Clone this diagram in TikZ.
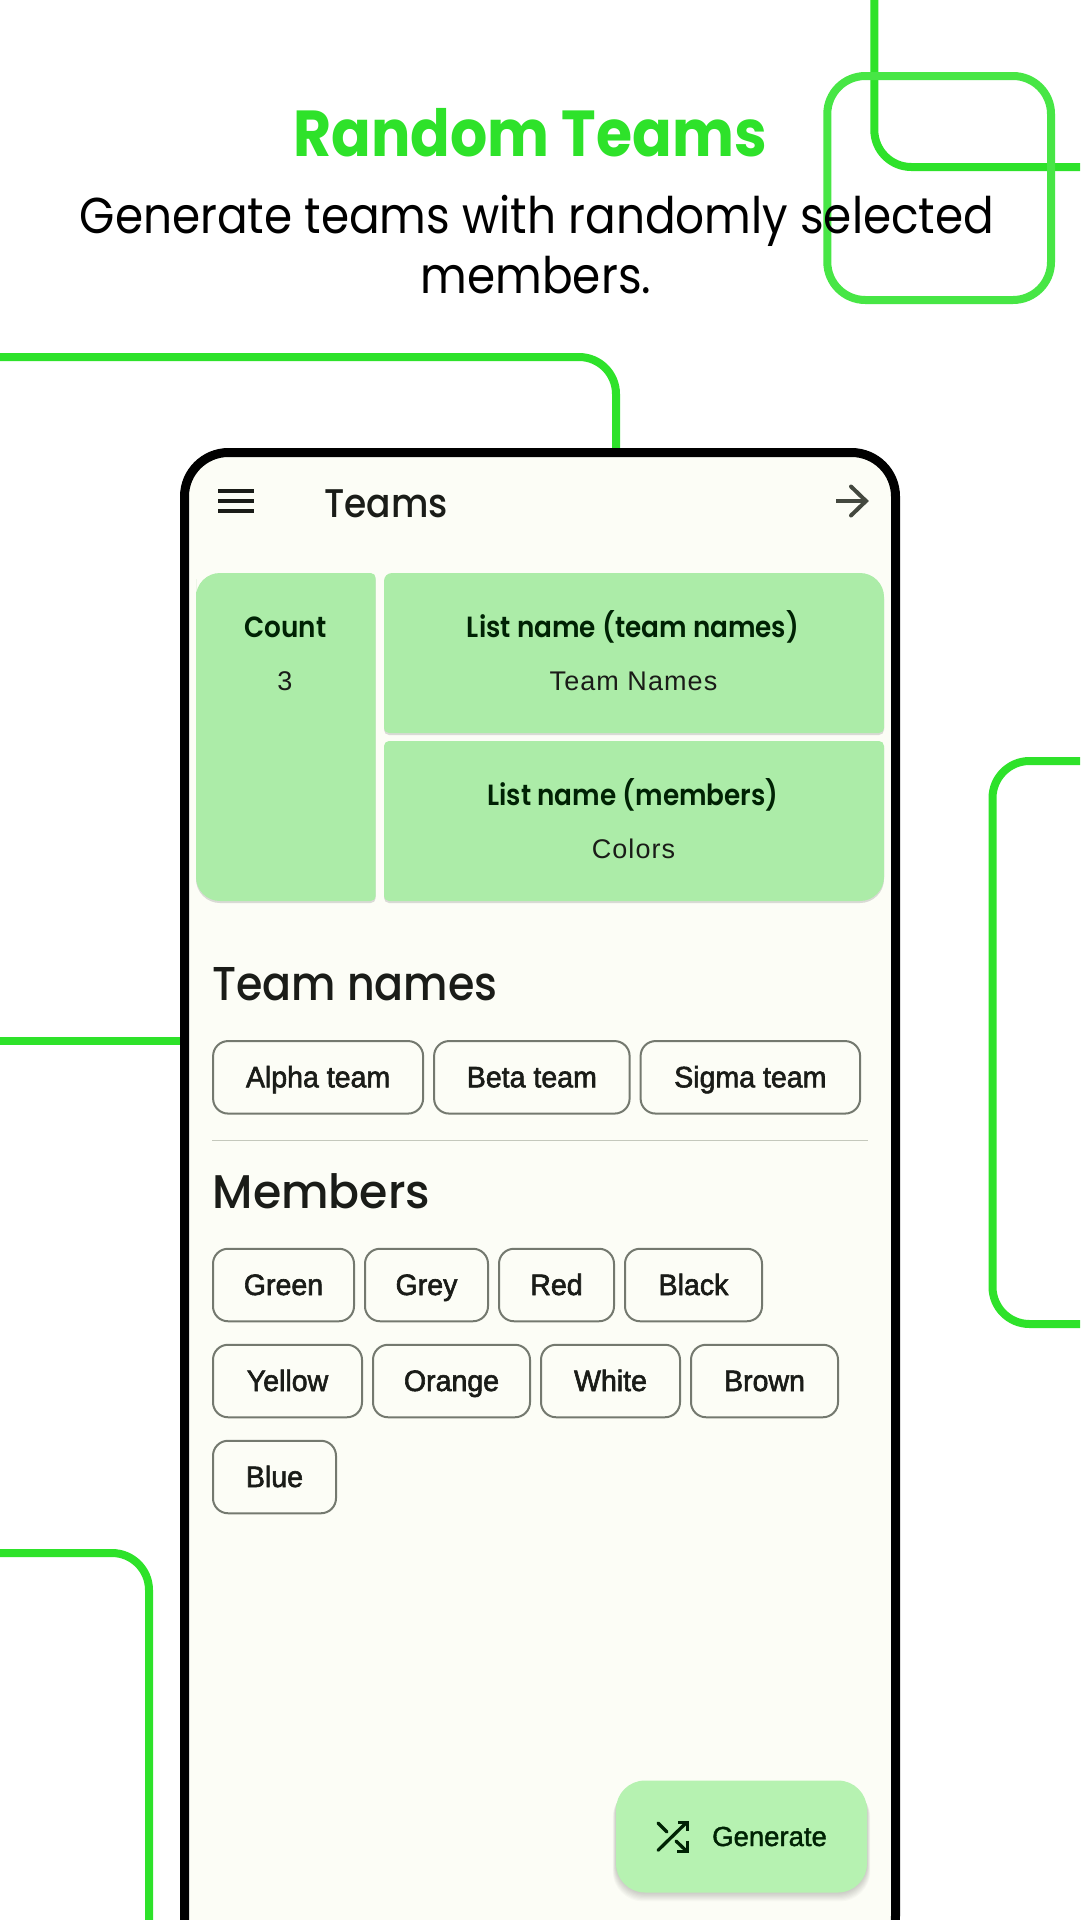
\documentclass[tikz,border=0pt]{standalone}
\usepackage{fontspec}
\usetikzlibrary{positioning}
\setmainfont{Liberation Sans}
\newfontfamily\headfont[FakeStretch=0.90]{Poppins}
\newfontfamily\headmedium[FakeStretch=0.90,UprightFont=* Medium]{Poppins}
\newfontfamily\headwide[FakeStretch=0.97,UprightFont=* Medium]{Poppins}
\newfontfamily\headsemi[FakeStretch=0.90,UprightFont=* SemiBold]{Poppins}
\newfontfamily\chipfont[FakeBold=2,FakeStretch=0.967]{Liberation Sans}
\newfontfamily\valuefont[LetterSpace=4]{Liberation Sans}
\newfontfamily\fabfont[FakeBold=1.5]{Liberation Sans}
\definecolor{deco-green}{HTML}{2EE22A}
\definecolor{deco-light}{HTML}{47E645}
\definecolor{screen-bg}{HTML}{FCFDF6}
\definecolor{card-green}{HTML}{ACECA8}
\definecolor{fab-green}{HTML}{B6F2B1}
\definecolor{on-card}{HTML}{002204}
\definecolor{on-screen}{HTML}{1A1C18}
\definecolor{chip-line}{HTML}{74796F}
\definecolor{rule-line}{HTML}{C4C8BC}
\definecolor{icon-grey}{HTML}{44483F}
\tikzset{
    deco/.style={line width=8pt, draw=deco-green, rounded corners=37pt},
    cardtitle/.style={anchor=base, text=on-card, font=\headsemi\fontsize{29.2}{32}\selectfont},
    cardvalue/.style={anchor=base, text=on-screen, font=\valuefont\fontsize{27}{30}\selectfont},
    section/.style={anchor=base west, inner sep=0pt, text=on-screen, font=\headmedium\fontsize{47.5}{50}\selectfont},
    chip/.style={draw=chip-line, line width=2pt, rounded corners=15pt, minimum height=72.5pt,
        inner sep=0pt, text height=20pt, text depth=0pt, text=on-screen, font=\chipfont\fontsize{29.5}{32}\selectfont},
}
% one card of the header, the four radii run clockwise from the top left
\newcommand{\cardshape}[8]{
    \fill[black!40, opacity=0.35] (#1,#2+30) [rounded corners=#5pt] -- (#1,#2+2) [rounded corners=#6pt] -- (#3,#2+2) [rounded corners=#7pt] -- (#3,#4+2) [rounded corners=#8pt] -- (#1,#4+2) [rounded corners=#5pt] -- cycle;
    \fill[card-green] (#1,#2+30) [rounded corners=#5pt] -- (#1,#2) [rounded corners=#6pt] -- (#3,#2) [rounded corners=#7pt] -- (#3,#4) [rounded corners=#8pt] -- (#1,#4) [rounded corners=#5pt] -- cycle;
}
\begin{document}
\begin{tikzpicture}[x=1pt, y=-1pt]
    \useasboundingbox (0,0) rectangle (1080,1920);
    \clip (0,0) rectangle (1080,1920);
    \fill[white] (0,0) rectangle (1080,1920);

    % green lines behind the phone
    \coordinate (a1) at (0,357);
    \coordinate (a2) at (616,357);
    \coordinate (a3) at (616,470);
    \draw[deco] (a1) -- (a2) -- (a3);
    \coordinate (b1) at (874.3,-10);
    \coordinate (b2) at (874.3,167);
    \coordinate (b3) at (1090,167);
    \draw[deco] (b1) -- (b2) -- (b3);
    \coordinate (c1) at (1090,761);
    \coordinate (c2) at (992.5,761);
    \coordinate (c3) at (992.5,1324);
    \coordinate (c4) at (1090,1324);
    \draw[deco] (c1) -- (c2) -- (c3) -- (c4);
    \coordinate (d1) at (0,1041);
    \coordinate (d2) at (200,1041);
    \draw[deco] (d1) -- (d2);
    \coordinate (e1) at (0,1553);
    \coordinate (e2) at (149,1553);
    \coordinate (e3) at (149,1930);
    \draw[deco] (e1) -- (e2) -- (e3);
    \draw[line width=8pt, draw=deco-light, rounded corners=38pt] (827.3,76) rectangle (1051,300);

    % title
    \node[anchor=base, text=deco-green, font=\headfont\bfseries\fontsize{65}{70}\selectfont] (title) at (530,156.5) {Random Teams};
    \node[anchor=base, font=\headfont\fontsize{50.4}{60}\selectfont] (subtitle1) at (537,233) {Generate teams with randomly selected};
    \node[anchor=base, font=\headfont\fontsize{50.4}{60}\selectfont] (subtitle2) at (536,293) {members.};

    % phone
    \draw[line width=9pt, fill=screen-bg, rounded corners=44pt] (184.5,1960) rectangle (895.5,452.5);

    % top bar
    \foreach \y in {491,501,511}
        \draw[line width=4pt, on-screen] (218,\y) -- (254,\y);
    \node[anchor=base west, inner sep=0pt, text=on-screen, font=\headmedium\fontsize{40}{44}\selectfont] (bartitle) at (324,517) {Teams};
    \draw[line width=4pt, icon-grey] (836,501) -- (865,501);
    \draw[line width=4pt, icon-grey, line cap=round] (851,486.5) -- (866,501) -- (851,515.5);

    % header cards
    \cardshape{196}{573}{375.7}{901}{24}{5}{5}{24}
    \cardshape{384}{573}{884}{733}{8}{24}{5}{5}
    \cardshape{384}{741}{884}{901}{5}{5}{24}{5}
    \node[cardtitle] (counttitle) at (285.6,637) {Count};
    \node[cardvalue] (countvalue) at (285,690) {3};
    \node[cardtitle] (teamtitle) at (633,637) {List name (team names)};
    \node[cardvalue] (teamvalue) at (633.5,690) {Team Names};
    \node[cardtitle] (membertitle) at (633,805) {List name (members)};
    \node[cardvalue] (membervalue) at (633.5,858) {Colors};

    % team names
    \node[section] (teamhead) at (212,1000) {Team names};
    \node[chip, minimum width=210pt] (alpha) at (318.1,1077.3) {Alpha team};
    \node[chip, minimum width=195.5pt, right=9pt of alpha] (beta) {Beta team};
    \node[chip, minimum width=219.5pt, right=9pt of beta] (sigma) {Sigma team};
    \draw[line width=1.5pt, rule-line] (212,1140.6) -- (867.5,1140.6);

    % members
    \node[section, font=\headwide\fontsize{47.2}{50}\selectfont] (memberhead) at (212.5,1208) {Members};
    \node[chip, minimum width=141pt] (green) at (283.5,1285) {Green};
    \node[chip, minimum width=123pt, right=9pt of green] (grey) {Grey};
    \node[chip, minimum width=115pt, right=9pt of grey] (red) {Red};
    \node[chip, minimum width=137pt, right=9pt of red] (black) {Black};
    \node[chip, minimum width=149pt] (yellow) at (287.5,1381) {Yellow};
    \node[chip, minimum width=157pt, right=9pt of yellow] (orange) {Orange};
    \node[chip, minimum width=139pt, right=9pt of orange] (whitechip) {White};
    \node[chip, minimum width=147pt, right=9pt of whitechip] (brown) {Brown};
    \node[chip, minimum width=123pt] (blue) at (274.5,1477) {Blue};

    % generate button
    \foreach \s in {1,...,8}
        \fill[black, opacity=0.022] (616-\s*0.4,1782+\s*0.7) [rounded corners=30pt] rectangle (867+\s*0.4,1892.5+\s*1.1);
    \node[draw=none, fill=fab-green, rounded corners=29pt, minimum width=251pt, minimum height=112pt, inner sep=0pt] (generate) at (741.5,1836.5) {};
    \node[anchor=base west, inner sep=0pt, text=on-card, font=\fabfont\fontsize{27.5}{30}\selectfont] (generatetext) at (712,1846) {Generate};
    \draw[line width=3.3pt, on-card, line cap=round] (658,1850.3) -- (686,1823);
    \draw[line width=3.3pt, on-card, line cap=round] (658,1823) -- (667,1832);
    \draw[line width=3.3pt, on-card, line cap=round] (676,1841) -- (686,1850.5);
    \draw[line width=3.3pt, on-card] (678,1822.5) -- (687.5,1822.5) -- (687.5,1831);
    \draw[line width=3.3pt, on-card] (687.5,1840.5) -- (687.5,1851.5) -- (677,1851.5);
\end{tikzpicture}
\end{document}
